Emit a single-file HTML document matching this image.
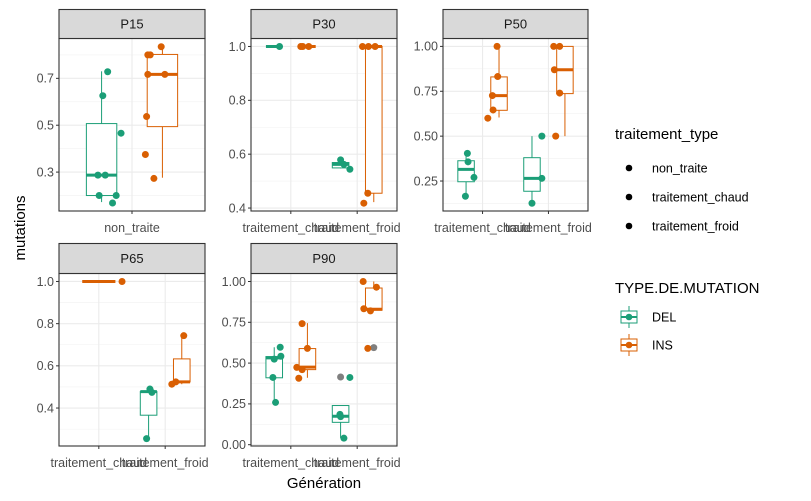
<!DOCTYPE html>
<html><head><meta charset="utf-8"><style>
body{margin:0;background:#fff}
svg{display:block;font-family:"Liberation Sans",Arial,sans-serif}
</style></head><body>
<svg id="chart" width="811" height="501" viewBox="0 0 811 501" xmlns="http://www.w3.org/2000/svg">
<rect width="811" height="501" fill="#fff"/>
<text x="0" y="0" transform="translate(25,228) rotate(-90)" text-anchor="middle" font-size="15" fill="#000">mutations</text>
<text x="324" y="488" text-anchor="middle" font-size="15" fill="#000">Génération</text>
<g>
<text x="615" y="139" font-size="15" fill="#000">traitement_type</text>
<circle cx="629" cy="168" r="3.3" fill="#000"/>
<text x="652" y="172.5" font-size="12.5" fill="#000">non_traite</text>
<circle cx="629" cy="197" r="3.3" fill="#000"/>
<text x="652" y="201.5" font-size="12.5" fill="#000">traitement_chaud</text>
<circle cx="629" cy="226" r="3.3" fill="#000"/>
<text x="652" y="230.5" font-size="12.5" fill="#000">traitement_froid</text>
</g>
<g>
<text x="615" y="293" font-size="15" fill="#000">TYPE.DE.MUTATION</text>
<g stroke="#1b9e77" fill="#fff">
<line x1="629" y1="306" x2="629" y2="311"/><line x1="629" y1="323" x2="629" y2="328"/>
<rect x="621" y="311" width="16" height="12"/><line x1="621" y1="317" x2="637" y2="317" stroke-width="2"/>
<circle cx="629" cy="317" r="3.3" fill="#1b9e77" stroke="none"/></g>
<text x="652" y="321.5" font-size="12.5" fill="#000">DEL</text>
<g stroke="#d95f02" fill="#fff">
<line x1="629" y1="334" x2="629" y2="339"/><line x1="629" y1="351" x2="629" y2="356"/>
<rect x="621" y="339" width="16" height="12"/><line x1="621" y1="345" x2="637" y2="345" stroke-width="2"/>
<circle cx="629" cy="345" r="3.3" fill="#d95f02" stroke="none"/></g>
<text x="652" y="349.5" font-size="12.5" fill="#000">INS</text>
</g>
</svg>
<script>
// ---- data: stats rows [catIndex, type, whiskerLow, q1, median, q3, whiskerHigh, single]
const p15Cats=["non_traite"];
const p15Stats=[[0,"DEL",0.172,0.2,0.287,0.507,0.73,0],[0,"INS",0.276,0.494,0.717,0.802,0.835,0]];
const p15Points=[[0,"DEL",0.728,0.05],[0,"DEL",0.626,0.01],[0,"DEL",0.466,0.16],[0,"DEL",0.287,-0.03],[0,"DEL",0.287,0.03],[0,"DEL",0.2,-0.02],[0,"DEL",0.2,0.12],[0,"DEL",0.168,0.09],
 [0,"INS",0.835,-0.01],[0,"INS",0.8,-0.12],[0,"INS",0.8,-0.1],[0,"INS",0.717,-0.12],[0,"INS",0.717,0.02],[0,"INS",0.537,-0.13],[0,"INS",0.375,-0.14],[0,"INS",0.273,-0.07]];
const p30Cats=["traitement_chaud","traitement_froid"];
const p30Stats=[[0,"DEL",1,1,1,1,1,0],[0,"INS",1,1,1,1,1,0],[1,"DEL",0.547,0.549,0.562,0.569,0.579,0],[1,"INS",0.422,0.455,1,1,1,0]];
const p30Points=[[0,"DEL",1,0.08],[0,"INS",1,-0.1],[0,"INS",1,-0.07],[0,"INS",1,0.02],[1,"DEL",0.579,0],[1,"DEL",0.562,0.05],[1,"DEL",0.544,0.14],
 [1,"INS",1,-0.17],[1,"INS",1,-0.08],[1,"INS",1,0.02],[1,"INS",0.455,-0.09],[1,"INS",0.418,-0.15]];
const p50Cats=["traitement_chaud","traitement_froid"];
const p50Stats=[[0,"DEL",0.163,0.246,0.315,0.363,0.404,0],[0,"INS",0.604,0.644,0.726,0.83,1,0],[1,"DEL",0.132,0.193,0.265,0.38,0.5,0],[1,"INS",0.5,0.737,0.87,1,1,0]];
const p50Points=[[0,"DEL",0.404,0.02],[0,"DEL",0.357,0.03],[0,"DEL",0.27,0.12],[0,"DEL",0.165,-0.01],
 [0,"INS",1,-0.03],[0,"INS",0.832,-0.02],[0,"INS",0.646,-0.09],[0,"INS",0.726,-0.1],[0,"INS",0.6,-0.17],
 [1,"DEL",0.5,0.15],[1,"DEL",0.265,0.15],[1,"DEL",0.126,0],
 [1,"INS",1,-0.17],[1,"INS",1,-0.08],[1,"INS",0.87,-0.16],[1,"INS",0.74,-0.08],[1,"INS",0.5,-0.14]];
const p65Cats=["traitement_chaud","traitement_froid"];
const p65Stats=[[0,"INS",1,1,1,1,1,1],[1,"DEL",0.254,0.366,0.478,0.478,0.49,0],[1,"INS",0.513,0.524,0.524,0.633,0.743,0]];
const p65Points=[[0,"INS",1,0.1],[1,"DEL",0.49,0.02],[1,"DEL",0.474,0.05],[1,"DEL",0.255,-0.03],[1,"INS",0.743,0.03],[1,"INS",0.524,-0.09],[1,"INS",0.513,-0.15]];
const p90Cats=["traitement_chaud","traitement_froid"];
const p90Stats=[[0,"DEL",0.256,0.41,0.532,0.54,0.597,0],[0,"INS",0.41,0.46,0.475,0.589,0.745,0],[1,"DEL",0.04,0.137,0.174,0.24,0.24,0],[1,"INS",0.82,0.824,0.83,0.96,1,0]];
const p90Points=[[0,"DEL",0.597,0.09],[0,"DEL",0.542,0.1],[0,"DEL",0.524,0],[0,"DEL",0.412,-0.02],[0,"DEL",0.259,0.02],
 [0,"INS",0.742,-0.08],[0,"INS",0.59,0],[0,"INS",0.474,-0.16],[0,"INS",0.46,-0.08],[0,"INS",0.407,-0.13],
 [1,"DEL",0.412,0.14],[1,"DEL",0.186,-0.01],[1,"DEL",0.172,0],[1,"DEL",0.04,0.05],
 [1,"INS",1,-0.16],[1,"INS",0.965,0.04],[1,"INS",0.833,-0.15],[1,"INS",0.82,-0.05],[1,"INS",0.59,-0.09]];
const p90Outliers=[[1,"DEL",0.415],[1,"INS",0.595]];
const p15Ticks=[0.3,0.5,0.7], p15Minor=[0.2,0.4,0.6,0.8];
const p30Ticks=[0.4,0.6,0.8,1.0], p30Minor=[0.5,0.7,0.9];
const p50Ticks=[0.25,0.5,0.75,1.0], p50Minor=[0.125,0.375,0.625,0.875];
const p65Ticks=[0.4,0.6,0.8,1.0], p65Minor=[0.3,0.5,0.7,0.9];
const p90Ticks=[0,0.25,0.5,0.75,1.0], p90Minor=[0.125,0.375,0.625,0.875];
const p15TickLabels=["0.3","0.5","0.7"], p30TickLabels=["0.4","0.6","0.8","1.0"], p50TickLabels=["0.25","0.50","0.75","1.00"];
const p65TickLabels=["0.4","0.6","0.8","1.0"], p90TickLabels=["0.00","0.25","0.50","0.75","1.00"];

const NS="http://www.w3.org/2000/svg", svg=document.getElementById("chart");
const COL={DEL:"#1b9e77",INS:"#d95f02"};
function mk(tag,attrs,parent){const e=document.createElementNS(NS,tag);for(const k in attrs)e.setAttribute(k,attrs[k]);(parent||svg).appendChild(e);return e;}

function panel(p){
  const g=mk("g",{});
  
  
  const x0=p.x0,x1=p.x1,top=p.top,bot=p.bot,st=p.stripTop;
  const yS=v=>bot-(v-p.dom[0])/(p.dom[1]-p.dom[0])*(bot-top);
  const n=p.cats.length, ppu=(x1-x0)/(n-1+1.2);
  const xS=c=>x0+(c+0.6)*ppu;
  // grid
  p.minor.forEach(v=>{const l=mk("line",{x1:x0,x2:x1,y1:yS(v),y2:yS(v),stroke:"#f2f2f2","stroke-width":0.6},g);
    });
  p.ticks.forEach((v,i)=>{const y=yS(v);
    const l=mk("line",{x1:x0,x2:x1,y1:y,y2:y,stroke:"#ebebeb","stroke-width":1.1},g);
    
    const t=mk("line",{x1:x0-3,x2:x0,y1:y,y2:y,stroke:"#333","stroke-width":1},g);
    
    const tx=mk("text",{x:x0-5,y:y+4.3,"text-anchor":"end","font-size":12.5,fill:"#4d4d4d"},g);tx.textContent=p.labels[i];
    });
  p.cats.forEach((c,i)=>{const x=xS(i);
    const l=mk("line",{x1:x,x2:x,y1:top,y2:bot,stroke:"#ebebeb","stroke-width":1.1},g);
    
    const t=mk("line",{x1:x,x2:x,y1:bot,y2:bot+3,stroke:"#333","stroke-width":1},g);
    
    const tx=mk("text",{x:x,y:bot+21,"text-anchor":"middle","font-size":12.5,fill:"#4d4d4d"},g);tx.textContent=c;
    });
  // boxes
  p.stats.forEach(s=>{const [ci,ty,lo,q1,md,q3,hi,single]=s;
    const cx=single?xS(ci):xS(ci)+(ty==="DEL"?-0.25:0.25)*ppu, hw=(single?0.25:0.125)*ppu, c=COL[ty];
    const bg=mk("g",{stroke:c,fill:"#fff"},g);
    
    
    mk("line",{x1:cx,x2:cx,y1:yS(hi),y2:yS(q3)},bg);
    mk("line",{x1:cx,x2:cx,y1:yS(q1),y2:yS(lo)},bg);
    mk("rect",{x:cx-hw,y:yS(q3),width:2*hw,height:Math.max(0,yS(q1)-yS(q3))},bg);
    mk("line",{x1:cx-hw,x2:cx+hw,y1:yS(md),y2:yS(md),"stroke-width":3},bg);});
  (p.outliers||[]).forEach(o=>{const cx=xS(o[0])+(o[1]==="DEL"?-0.25:0.25)*ppu;
    const e=mk("circle",{cx:cx,cy:yS(o[2]),r:3.5,fill:"#7f7f7f"},g);
    });
  p.points.forEach(pt=>{const [ci,ty,v,j]=pt;
    const cx=xS(ci)+(ty==="DEL"?-0.25:0.25)*ppu+j*ppu;
    const e=mk("circle",{cx:cx,cy:yS(v),r:3.5,fill:COL[ty]},g);
    });
  const b=mk("rect",{x:x0,y:top,width:x1-x0,height:bot-top,fill:"none",stroke:"#333","stroke-width":1.1},g);
  
  const s=mk("rect",{x:x0,y:st,width:x1-x0,height:top-st,fill:"#d9d9d9",stroke:"#333","stroke-width":1.1},g);
  
  const st2=mk("text",{x:(x0+x1)/2,y:(st+top)/2+4.5,"text-anchor":"middle","font-size":13,fill:"#1a1a1a"},g);st2.textContent=p.name;
  
}
panel({name:"P15",x0:59,x1:205,stripTop:9.5,top:38.5,bot:211,dom:[0.134,0.870],ticks:p15Ticks,minor:p15Minor,labels:p15TickLabels,cats:p15Cats,stats:p15Stats,points:p15Points});
panel({name:"P30",x0:251,x1:397,stripTop:9.5,top:38.5,bot:211,dom:[0.389,1.0296],ticks:p30Ticks,minor:p30Minor,labels:p30TickLabels,cats:p30Cats,stats:p30Stats,points:p30Points});
panel({name:"P50",x0:443,x1:588,stripTop:9.5,top:38.5,bot:211,dom:[0.083,1.044],ticks:p50Ticks,minor:p50Minor,labels:p50TickLabels,cats:p50Cats,stats:p50Stats,points:p50Points});
panel({name:"P65",x0:59,x1:205,stripTop:243.5,top:273.5,bot:446,dom:[0.22,1.0378],ticks:p65Ticks,minor:p65Minor,labels:p65TickLabels,cats:p65Cats,stats:p65Stats,points:p65Points});
panel({name:"P90",x0:251,x1:397,stripTop:243.5,top:273.5,bot:446,dom:[-0.008,1.049],ticks:p90Ticks,minor:p90Minor,labels:p90TickLabels,cats:p90Cats,stats:p90Stats,points:p90Points,outliers:p90Outliers});
</script>
</body></html>
